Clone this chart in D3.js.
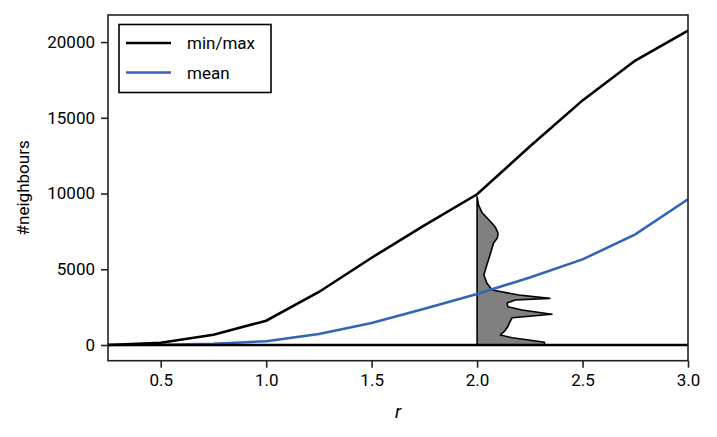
<!DOCTYPE html>
<html>
<head>
<meta charset="utf-8">
<script src="https://cdn.jsdelivr.net/npm/d3@7"></script>
<style>
  body { margin: 0; background: #fff; }
  svg { font-family: Roboto, "DejaVu Sans", sans-serif; }
</style>
</head>
<body>
<svg id="chart" width="717" height="437"></svg>
<script>
// radius values and neighbour counts
const radii = [0.25, 0.5, 0.75, 1.0, 1.25, 1.5, 1.75, 2.0, 2.25, 2.5, 2.75, 3.0];
const minCounts = [0, 0, 0, 0, 0, 0, 0, 0, 0, 0, 0, 0];
const maxCounts = [0, 150, 680, 1600, 3500, 5760, 7900, 9950, 13100, 16150, 18780, 20750];
const meanCounts = [0, 15, 80, 250, 720, 1450, 2400, 3370, 4450, 5650, 7300, 9620];

// distribution of neighbour counts at r = 2.0 (half violin)
const violinR = 2.0;
const violinLevels = [9790, 9240, 8710, 8250, 7810, 7390, 7060, 6730, 6400, 6070, 5740, 5280, 4620, 4090, 3630,
  3300, 3080, 2970, 2770, 2530, 2310, 2030, 1800, 1540, 1210, 880, 660, 480, 330, 180, 0];
const violinDensity = [0, 0.02, 0.07, 0.16, 0.24, 0.28, 0.27, 0.22, 0.2, 0.18, 0.16, 0.13, 0.09, 0.13, 0.2,
  0.56, 0.97, 0.51, 0.4, 0.41, 0.6, 1.0, 0.47, 0.44, 0.41, 0.36, 0.31, 0.47, 0.69, 0.9, 0.9];

const xTicks = [0.5, 1.0, 1.5, 2.0, 2.5, 3.0];
const yTicks = [0, 5000, 10000, 15000, 20000];
const legendLabels = ["min/max", "mean"];

const svg = d3.select("#chart");
const plotLeft = 108, plotRight = 688, plotTop = 15, plotBottom = 360.7;

const x = d3.scaleLinear().domain([0.25, 3.0]).range([plotLeft, plotRight]);
const yMax = d3.max(maxCounts);
const y = d3.scaleLinear().domain([-0.05 * yMax, 1.05 * yMax]).range([plotBottom, plotTop]);
// density 1 -> width in r units
const w = d3.scaleLinear().domain([0, 1]).range([0, 0.355]);

const plot = svg.append("g");

// violin
const vData = violinLevels.map((v, i) => ({ v: v, d: violinDensity[i] }));
const area = d3.area()
  .y(d => y(d.v))
  .x0(x(violinR))
  .x1(d => x(violinR + w(d.d)));
plot.append("path")
  .datum(vData)
  .attr("d", area)
  .attr("fill", "#808080")
  .attr("stroke", "#000")
  .attr("stroke-width", 1.6)
  .attr("stroke-linejoin", "round");

const line = d3.line().x((d, i) => x(radii[i])).y(d => y(d));

plot.append("path").datum(meanCounts).attr("d", line)
  .attr("fill", "none").attr("stroke", "#3465b4").attr("stroke-width", 2.6);
plot.append("path").datum(maxCounts).attr("d", line)
  .attr("fill", "none").attr("stroke", "#000").attr("stroke-width", 2.6);
plot.append("path").datum(minCounts).attr("d", line)
  .attr("fill", "none").attr("stroke", "#000").attr("stroke-width", 2.6);

// axes
const xAxis = svg.append("g")
  .attr("transform", `translate(0,${plotBottom})`)
  .call(d3.axisBottom(x).tickValues(xTicks).tickFormat(d3.format(".1f")).tickSize(7).tickPadding(6));
const yAxis = svg.append("g")
  .attr("transform", `translate(${plotLeft},0)`)
  .call(d3.axisLeft(y).tickValues(yTicks).tickFormat(d3.format("d")).tickSize(7).tickPadding(6));
[xAxis, yAxis].forEach(a => {
  a.select(".domain").remove();
  a.selectAll(".tick line").attr("stroke", "#222").attr("stroke-width", 1.6);
  a.selectAll(".tick text").attr("fill", "#000").attr("font-size", 17)
    .attr("font-family", "Roboto, sans-serif");
});

svg.append("rect")
  .attr("x", plotLeft).attr("y", plotTop)
  .attr("width", plotRight - plotLeft).attr("height", plotBottom - plotTop)
  .attr("fill", "none").attr("stroke", "#222").attr("stroke-width", 1.6);

// labels
svg.append("text")
  .attr("x", (plotLeft + plotRight) / 2).attr("y", 418)
  .attr("text-anchor", "middle").attr("font-size", 19).attr("font-style", "italic")
  .text("r");
svg.append("text")
  .attr("transform", `translate(29,${(plotTop + plotBottom) / 2}) rotate(-90)`)
  .attr("text-anchor", "middle").attr("font-size", 17)
  .text("#neighbours");

// legend
const legend = svg.append("g");
legend.append("rect")
  .attr("x", 119).attr("y", 24.5).attr("width", 152).attr("height", 68)
  .attr("fill", "#fff").attr("stroke", "#000").attr("stroke-width", 1.6);
const legendColors = ["#000", "#3465b4"];
legendLabels.forEach((lab, i) => {
  const ly = 43 + i * 29.5;
  legend.append("line")
    .attr("x1", 126).attr("x2", 171).attr("y1", ly).attr("y2", ly)
    .attr("stroke", legendColors[i]).attr("stroke-width", 2.6);
  legend.append("text")
    .attr("x", 187).attr("y", ly + 6)
    .attr("font-size", 17)
    .text(lab);
});
</script>
</body>
</html>
